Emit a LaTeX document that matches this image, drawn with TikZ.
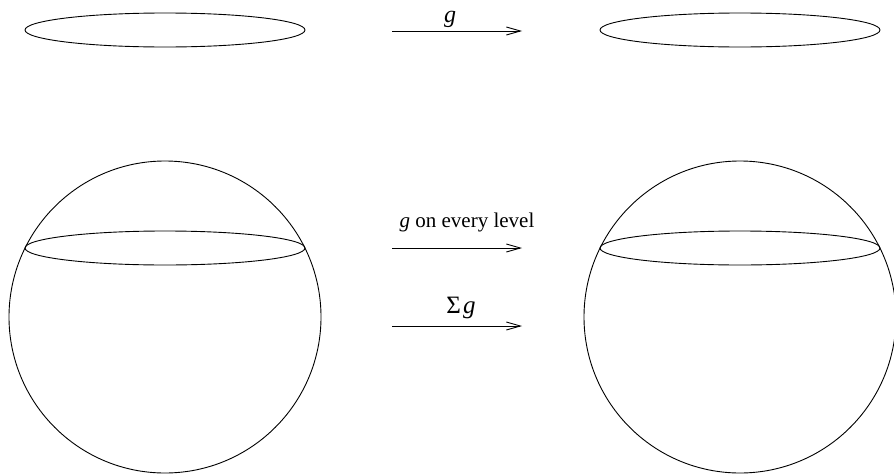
\documentclass[tikz,border=0pt]{standalone}
\usepackage{fontspec}
\setmainfont{Liberation Serif}
\usetikzlibrary{shapes.geometric,arrows.meta}
\begin{document}
\begin{tikzpicture}[x=1pt,y=-1pt,
  flat/.style={draw,ellipse,line width=0.9pt,minimum width=280pt,minimum height=34pt,inner sep=0pt},
  ball/.style={draw,circle,line width=0.9pt,minimum size=312pt,inner sep=0pt},
  maparrow/.style={line width=0.9pt,-{Straight Barb[length=14pt,width=8pt,line width=0.9pt]}},
  lbl/.style={inner sep=0pt,anchor=base}]
\useasboundingbox (0,0) rectangle (894,474);
% top row
\node[flat] (e1) at (165,30) {};
\node[flat] (e2) at (740,30) {};
\coordinate (a1s) at (392,31);
\coordinate (a1e) at (522,31);
\draw[maparrow] (a1s) -- (a1e);
\node[lbl,font=\fontsize{24}{29}\selectfont] (g1) at (450,22) {\textit{g}};
% bottom row
\node[ball] (b1) at (165,317) {};
\node[flat] (e3) at (165,248) {};
\node[ball] (b2) at (740,317) {};
\node[flat] (e4) at (740,248) {};
\coordinate (a2s) at (392,248);
\coordinate (a2e) at (522,248);
\draw[maparrow] (a2s) -- (a2e);
\node[lbl,font=\fontsize{21}{25}\selectfont] (l2) at (467,227) {\textit{g} on every level};
\coordinate (a3s) at (392,326);
\coordinate (a3e) at (522,326);
\draw[maparrow] (a3s) -- (a3e);
\node[lbl,font=\fontsize{25}{30}\selectfont] (l3) at (461,313) {Σ\kern2pt\textit{g}};
\end{tikzpicture}
\end{document}
